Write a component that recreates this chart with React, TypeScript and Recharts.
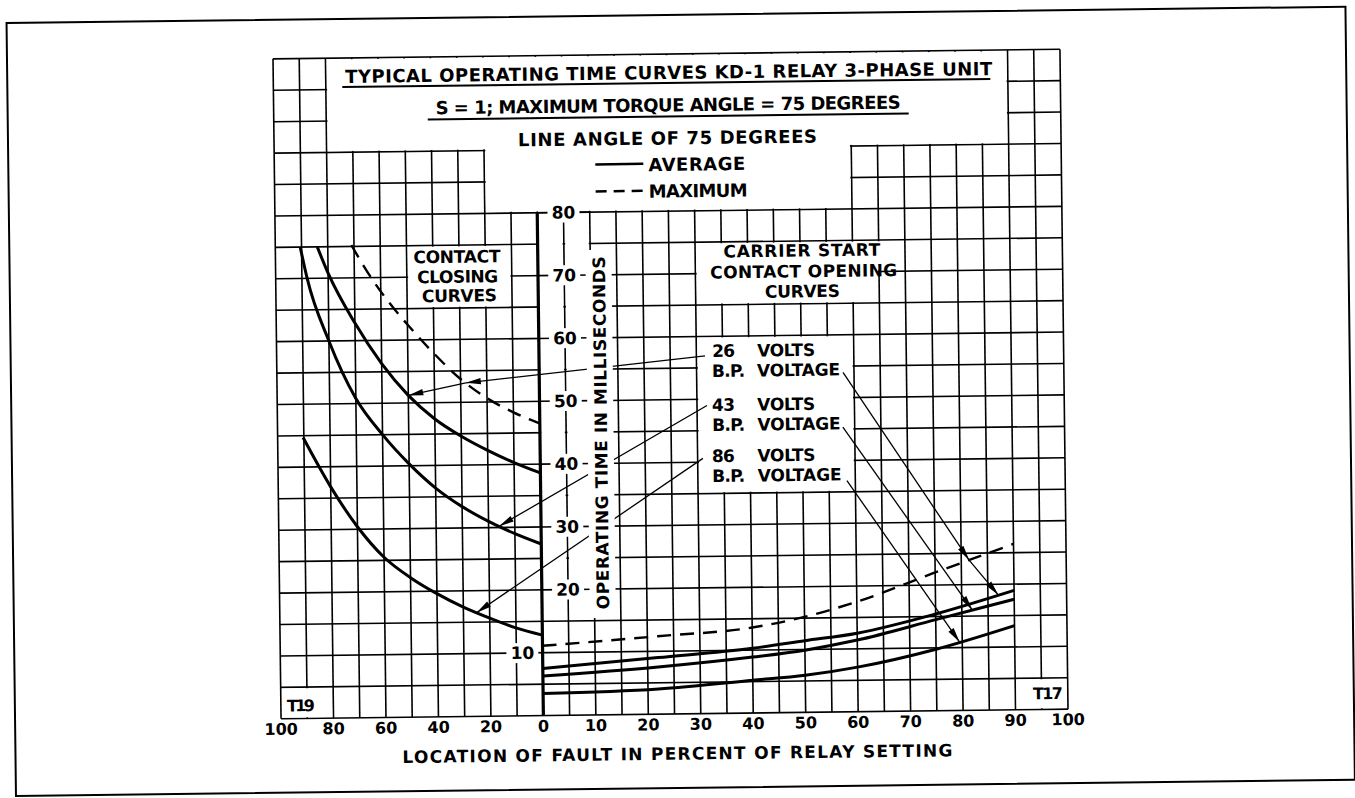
import React from 'react'
import {
  ComposedChart,
  Line,
  XAxis,
  YAxis,
  CartesianGrid,
  ReferenceArea,
  ReferenceLine,
} from 'recharts'

// contact closing curves: location of fault in % of relay setting (left half, 100 -> 0)
const closing26Pct = [84, 80, 70, 60, 50, 40, 30, 20, 10, 0]
const closing26Ms = [75, 70.8, 62.8, 56.3, 51.2, 47.4, 44.6, 42.3, 40.3, 38.6]
const closing43Pct = [90.5, 88, 80, 70, 60, 50, 40, 30, 20, 10, 0]
const closing43Ms = [75, 70, 60, 50.8, 45, 40.3, 36.4, 33.4, 31, 29, 27.3]
const closing86Pct = [90.3, 80, 70, 60, 50, 40, 30, 20, 10, 0]
const closing86Ms = [44.7, 36.8, 30.4, 25.5, 22.2, 19.6, 17.4, 15.6, 14, 12.8]
const closingMaxPct = [71, 63, 55, 49, 40, 30, 20, 10, 0]
const closingMaxMs = [75.2, 69.6, 65, 62, 57.8, 53.7, 50.6, 48.3, 46.5]

// carrier start contact opening curves (right half, 0 -> 100)
const openingPct = [0, 22, 40, 50, 60, 75, 90]
const opening26Ms = [7.5, 9.0, 10.3, 11.4, 12.5, 15.4, 19.0]
const opening43Ms = [6.3, 7.5, 8.9, 9.9, 11.4, 14.5, 17.6]
const opening86Ms = [3.5, 4.0, 5.2, 5.9, 7.1, 9.8, 13.4]
const openingMaxMs = [11.1, 12.4, 13.6, 15.2, 17.5, 22.0, 26.4]

const leftTickPct = [100, 80, 60, 40, 20, 0]
const rightTickPct = [10, 20, 30, 40, 50, 60, 70, 80, 90, 100]
const msTicks = [10, 20, 30, 40, 50, 60, 70, 80]

// the x axis is drawn in grid cells: 10 cells for 100..0 on the left, 20 cells for 0..100 on the right
const leftU = (p: number) => (100 - p) / 10
const rightU = (p: number) => 10 + p / 5

const leftSeries = (pct: number[], ms: number[]) =>
  pct.map((p, i) => ({ u: leftU(p), v: ms[i] })).sort((a, b) => a.u - b.u)
const rightSeries = (pct: number[], ms: number[]) => pct.map((p, i) => ({ u: rightU(p), v: ms[i] }))

// point on a curve, used as the tip of a leader arrow
const at = (pct: number[], ms: number[], p: number, toU: (p: number) => number) => {
  for (let i = 0; i < pct.length - 1; i++) {
    const a = pct[i]
    const b = pct[i + 1]
    if ((p - a) * (p - b) <= 0) {
      const t = (p - a) / (b - a)
      return { x: toU(p), y: ms[i] + t * (ms[i + 1] - ms[i]) }
    }
  }
  return { x: toU(p), y: ms[ms.length - 1] }
}

const W = 1355
const H = 798
const MARGIN = { top: 54, right: 291, bottom: 44, left: 276 }
const Y_AXIS_W = 1
const X_AXIS_H = 40
const PLOT_LEFT = MARGIN.left + Y_AXIS_W
const PLOT_W = W - PLOT_LEFT - MARGIN.right
const PLOT_H = H - MARGIN.top - MARGIN.bottom - X_AXIS_H
const px = (u: number) => PLOT_LEFT + (u / 30) * PLOT_W
const py = (v: number) => MARGIN.top + PLOT_H - (v / 105) * PLOT_H

const FONT = '"DejaVu Sans", Verdana, sans-serif'

const gridU = Array.from({ length: 31 }, (_, i) => i)
const gridV = Array.from({ length: 22 }, (_, i) => i * 5)

const xLabel = new Map<number, string>()
leftTickPct.forEach((p) => xLabel.set(leftU(p), String(p)))
rightTickPct.forEach((p) => xLabel.set(rightU(p), String(p)))
const xTicks = [...xLabel.keys()].sort((a, b) => a - b)

// white knock-outs where the grid is blanked for lettering [u1, u2, v1, v2]
const masks = [
  [2, 28, 90, 105],
  [8, 22, 80, 95],
  [5, 9, 65, 75],
  [16, 24, 70, 75],
  [16, 23, 65, 72],
  [16, 22, 35, 60],
  [10, 11, 15, 80],
  [11, 12, 15, 80],
  [0, 2, 0, 5],
  [28, 30, 0, 5],
]

const leaders = [
  { from: { x: 16.33, y: 56.9 }, via: at(closingMaxPct, closingMaxMs, 28, leftU), to: at(closing26Pct, closing26Ms, 50, leftU) },
  { from: { x: 16.38, y: 49.0 }, to: at(closing43Pct, closing43Ms, 16, leftU) },
  { from: { x: 16.2, y: 40.6 }, to: at(closing86Pct, closing86Ms, 25, leftU) },
  { from: { x: 21.58, y: 54.0 }, via: at(openingPct, openingMaxMs, 81.5, rightU), to: at(openingPct, opening26Ms, 87, rightU) },
  { from: { x: 21.55, y: 45.3 }, to: at(openingPct, opening43Ms, 82, rightU) },
  { from: { x: 21.68, y: 36.8 }, to: at(openingPct, opening86Ms, 79.5, rightU) },
]

function arrowShape(props: any) {
  const { x1, y1, x2, y2 } = props
  const dx = x2 - x1
  const dy = y2 - y1
  const len = Math.hypot(dx, dy) || 1
  const ux = dx / len
  const uy = dy / len
  const bx = x2 - ux * 15
  const by = y2 - uy * 15
  const hw = 3.2
  return (
    <g>
      <line x1={x1} y1={y1} x2={x2} y2={y2} stroke="#000" strokeWidth={1.3} />
      <polygon
        points={`${x2},${y2} ${bx - uy * hw},${by + ux * hw} ${bx + uy * hw},${by - ux * hw}`}
        fill="#000"
      />
    </g>
  )
}

function XTick(props: any) {
  const { x, payload } = props
  return (
    <text x={x} y={py(0) + 10 + 6} textAnchor="middle" fontFamily={FONT} fontWeight="bold" fontSize={16} fill="#000">
      {xLabel.get(payload.value)}
    </text>
  )
}

function MsTick(props: any) {
  const { y, payload } = props
  const v = payload.value
  const cx = px(v === 10 ? 9.23 : 11)
  return (
    <g>
      <rect x={cx - 16} y={y - 10} width={32} height={20} fill="#fff" />
      <text x={cx} y={y + 6} textAnchor="middle" fontFamily={FONT} fontWeight="bold" fontSize={17} fill="#000">
        {v}
      </text>
    </g>
  )
}

const texts = [
  { t: 'TYPICAL OPERATING TIME CURVES KD-1 RELAY 3-PHASE UNIT', x: 349, y: 72.5, w: 647, s: 18 },
  { t: 'S = 1; MAXIMUM TORQUE ANGLE = 75 DEGREES', x: 439, y: 105, w: 465, s: 18 },
  { t: 'LINE ANGLE OF 75 DEGREES', x: 521, y: 138, w: 299, s: 18 },
  { t: 'AVERAGE', x: 651, y: 164.4, w: 97, s: 18 },
  { t: 'MAXIMUM', x: 651, y: 191, w: 99, s: 18 },
  { t: 'CONTACT', x: 415, y: 254, w: 87, s: 17 },
  { t: 'CLOSING', x: 418.5, y: 274, w: 81, s: 17 },
  { t: 'CURVES', x: 423, y: 293, w: 75, s: 17 },
  { t: 'CARRIER START', x: 725, y: 252, w: 157, s: 17 },
  { t: 'CONTACT OPENING', x: 711.6, y: 272.8, w: 187, s: 17 },
  { t: 'CURVES', x: 766, y: 292.8, w: 75, s: 17 },
  { t: '26', x: 712.5, y: 351.4, w: 23, s: 17 },
  { t: 'VOLTS', x: 757.5, y: 351.4, w: 58, s: 17 },
  { t: 'B.P.', x: 712.2, y: 371.4, w: 33, s: 17 },
  { t: 'VOLTAGE', x: 757.2, y: 371.4, w: 83, s: 17 },
  { t: '43', x: 711.7, y: 405.4, w: 23, s: 17 },
  { t: 'VOLTS', x: 757, y: 405.4, w: 58, s: 17 },
  { t: 'B.P.', x: 711.7, y: 425.4, w: 33, s: 17 },
  { t: 'VOLTAGE', x: 757, y: 425.4, w: 83, s: 17 },
  { t: '86', x: 711, y: 456.4, w: 23, s: 17 },
  { t: 'VOLTS', x: 756.5, y: 456.4, w: 58, s: 17 },
  { t: 'B.P.', x: 711, y: 476.4, w: 33, s: 17 },
  { t: 'VOLTAGE', x: 756.5, y: 476.4, w: 84, s: 17 },
  { t: 'LOCATION OF FAULT IN PERCENT OF RELAY SETTING', x: 398, y: 753.6, w: 550, s: 17 },
  { t: 'T19', x: 283, y: 701, w: 28, s: 16 },
  { t: 'T17', x: 1029, y: 698, w: 30, s: 16 },
]

export default function App() {
  const curves = [
    { key: 'c26', data: leftSeries(closing26Pct, closing26Ms), dash: false },
    { key: 'c43', data: leftSeries(closing43Pct, closing43Ms), dash: false },
    { key: 'c86', data: leftSeries(closing86Pct, closing86Ms), dash: false },
    { key: 'cmax', data: leftSeries(closingMaxPct, closingMaxMs), dash: true },
    { key: 'o26', data: rightSeries(openingPct, opening26Ms), dash: false },
    { key: 'o43', data: rightSeries(openingPct, opening43Ms), dash: false },
    { key: 'o86', data: rightSeries(openingPct, opening86Ms), dash: false },
    { key: 'omax', data: rightSeries(openingPct, openingMaxMs), dash: true },
  ]

  const segs: { a: { x: number; y: number }; b: { x: number; y: number } }[] = []
  leaders.forEach((l) => {
    if (l.via) {
      segs.push({ a: l.from, b: l.via })
      segs.push({ a: l.via, b: l.to })
    } else {
      segs.push({ a: l.from, b: l.to })
    }
  })

  return (
    <div
      style={{
        position: 'absolute',
        left: 0,
        top: 0,
        width: W,
        height: H,
        background: '#fff',
        transform: 'rotate(-0.7deg)',
        transformOrigin: '670.5px 384px',
      }}
    >
      <ComposedChart width={W} height={H} margin={MARGIN}>
        <CartesianGrid stroke="#000" strokeWidth={1.6} horizontalValues={gridV} verticalValues={gridU} />
        {masks.map((m, i) => (
          <ReferenceArea
            key={`m${i}`}
            x1={m[0] + 0.05}
            x2={m[1] - 0.05}
            y1={m[2] + 0.2}
            y2={m[3] - 0.2}
            fill="#fff"
            fillOpacity={1}
            stroke="none"
          />
        ))}
        {msTicks
          .filter((v) => v >= 20)
          .map((v) => (
            <ReferenceLine key={`r${v}`} segment={[{ x: 10, y: v }, { x: 12, y: v }]} stroke="#000" strokeWidth={1.6} />
          ))}
        <ReferenceLine segment={[{ x: 10, y: 0 }, { x: 10, y: 80 }]} stroke="#000" strokeWidth={3.2} />
        {curves.map((c) => (
          <Line
            key={c.key}
            data={c.data}
            dataKey="v"
            type="monotone"
            stroke="#000"
            strokeWidth={c.dash ? 2.4 : 3}
            strokeDasharray={c.dash ? '14 9' : undefined}
            dot={false}
            activeDot={false}
            isAnimationActive={false}
          />
        ))}
        {segs.map((s, i) => (
          <ReferenceLine key={`l${i}`} segment={[s.a, s.b]} shape={arrowShape} />
        ))}
        <XAxis
          dataKey="u"
          type="number"
          domain={[0, 30]}
          ticks={xTicks}
          interval={0}
          height={X_AXIS_H}
          axisLine={false}
          tickLine={false}
          tick={XTick}
        />
        <YAxis
          type="number"
          domain={[0, 105]}
          ticks={msTicks}
          interval={0}
          width={Y_AXIS_W}
          axisLine={false}
          tickLine={false}
          tick={MsTick}
        />
      </ComposedChart>

      <svg width={W} height={H} style={{ position: 'absolute', left: 0, top: 0, pointerEvents: 'none' }}>
        <rect x={11} y={15} width={1339} height={773} fill="none" stroke="#000" strokeWidth={2} />
        <line x1={346} y1={83} x2={994} y2={83} stroke="#000" strokeWidth={2} />
        <line x1={431} y1={116.5} x2={912} y2={116.5} stroke="#000" strokeWidth={2} />
        <line x1={598} y1={163.5} x2={646} y2={163.5} stroke="#000" strokeWidth={2.5} />
        <line x1={598} y1={190.5} x2={646} y2={190.5} stroke="#000" strokeWidth={2.5} strokeDasharray="11 7" />
        {texts.map((t, i) => (
          <text
            key={i}
            x={t.x}
            y={t.y + t.s * 0.36}
            textLength={t.w}
            lengthAdjust="spacing"
            fontFamily={FONT}
            fontWeight="bold"
            fontSize={t.s}
            fill="#000"
          >
            {t.t}
          </text>
        ))}
        <rect x={587} y={249} width={26} height={368} fill="#fff" />
        <text
          transform="translate(600.3,432) rotate(-90)"
          x={0}
          y={17 * 0.36}
          textAnchor="middle"
          textLength={353}
          lengthAdjust="spacing"
          fontFamily={FONT}
          fontWeight="bold"
          fontSize={17}
          fill="#000"
        >
          OPERATING TIME IN MILLISECONDS
        </text>
      </svg>
    </div>
  )
}
